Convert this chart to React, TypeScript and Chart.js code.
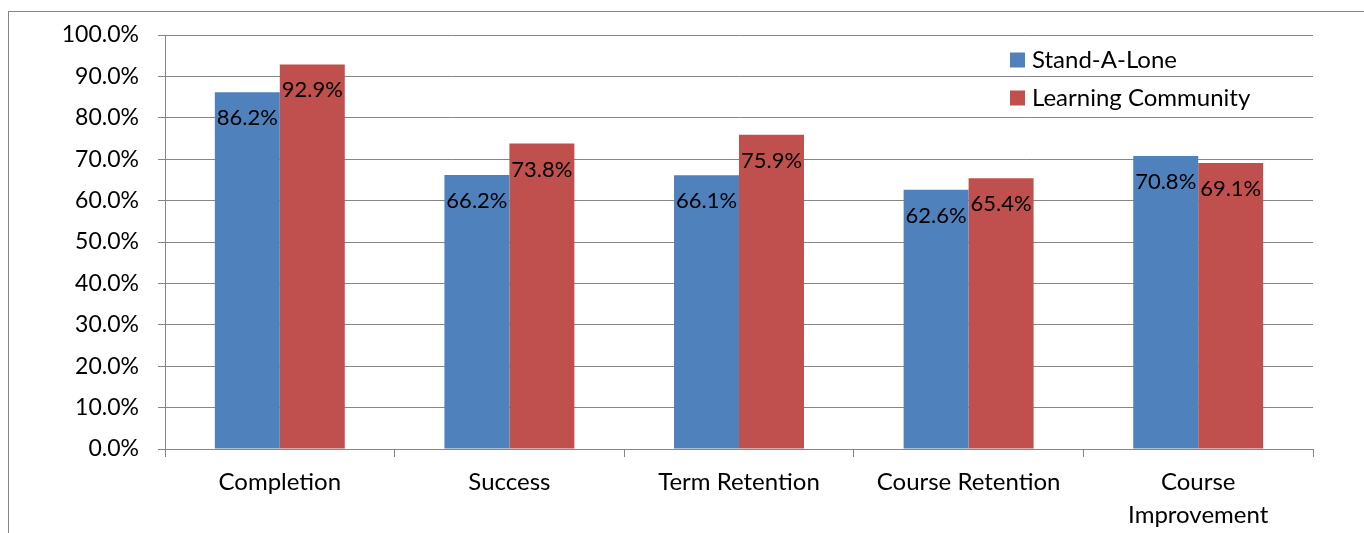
import React, { useEffect, useRef } from "react";
import { Chart, registerables } from "chart.js";

Chart.register(...registerables);

const categories: (string | string[])[] = [
  "Completion",
  "Success",
  "Term Retention",
  "Course Retention",
  ["Course", "Improvement"],
];
const seriesNames = ["Stand-A-Lone", "Learning Community"];
const standAlone = [86.2, 66.2, 66.1, 62.6, 70.8];
const learningCommunity = [92.9, 73.8, 75.9, 65.4, 69.1];
const seriesColors = ["#4F81BD", "#C0504D"];
const yMin = 0;
const yMax = 100;
const yStep = 10;

const FONT = "Lato, 'Open Sans', sans-serif";
const GRID = "#868686";

const framePlugin = {
  id: "frame",
  beforeDraw(chart: any) {
    const ctx = chart.ctx;
    ctx.save();
    ctx.fillStyle = "#fff";
    ctx.fillRect(0, 0, chart.width, chart.height);
    ctx.strokeStyle = GRID;
    ctx.lineWidth = 1;
    ctx.strokeRect(8.5, 11.5, chart.width + 20, chart.height + 20);
    ctx.restore();
  },
};

const valueLabelPlugin = {
  id: "valueLabels",
  afterDatasetsDraw(chart: any) {
    const ctx = chart.ctx;
    ctx.save();
    ctx.font = `22px ${FONT}`;
    ctx.fillStyle = "#000";
    ctx.textAlign = "center";
    ctx.textBaseline = "middle";
    chart.data.datasets.forEach((ds: any, di: number) => {
      const meta = chart.getDatasetMeta(di);
      meta.data.forEach((bar: any, i: number) => {
        const v = ds.data[i];
        ctx.fillText(v.toFixed(1) + "%", bar.x, bar.y + 26);
      });
    });
    ctx.restore();
  },
};

const legendPlugin = {
  id: "innerLegend",
  afterDraw(chart: any) {
    const ctx = chart.ctx;
    const x0 = 1010;
    const y0 = 60;
    const gap = 38;
    const box = 15;
    ctx.save();
    ctx.font = `24px ${FONT}`;
    ctx.textAlign = "left";
    ctx.textBaseline = "middle";
    chart.data.datasets.forEach((ds: any, i: number) => {
      const cy = y0 + i * gap;
      ctx.fillStyle = ds.backgroundColor;
      ctx.fillRect(x0, cy - box / 2, box, box);
      ctx.fillStyle = "#000";
      ctx.fillText(ds.label, x0 + 22, cy);
    });
    ctx.restore();
  },
};

export default function App() {
  const ref = useRef<HTMLCanvasElement>(null);
  useEffect(() => {
    if (!ref.current) return;
    const chart = new Chart(ref.current, {
      type: "bar",
      data: {
        labels: categories,
        datasets: [
          {
            label: seriesNames[0],
            data: standAlone,
            backgroundColor: seriesColors[0],
            barPercentage: 1,
            categoryPercentage: 0.566,
          },
          {
            label: seriesNames[1],
            data: learningCommunity,
            backgroundColor: seriesColors[1],
            barPercentage: 1,
            categoryPercentage: 0.566,
          },
        ],
      },
      options: {
        animation: false,
        responsive: false,
        maintainAspectRatio: false,
        layout: { padding: { top: 35, right: 51, left: 0, bottom: 0 } },
        plugins: {
          legend: { display: false },
          tooltip: { enabled: false },
        },
        scales: {
          x: {
            grid: {
              offset: true,
              drawOnChartArea: false,
              drawTicks: true,
              tickLength: 8,
              color: GRID,
            },
            border: { color: GRID },
            ticks: {
              color: "#000",
              font: { family: FONT, size: 24, lineHeight: 1.375 },
              padding: 9,
              maxRotation: 0,
              autoSkip: false,
            },
            afterFit(scale: any) {
              scale.height = 84;
            },
          },
          y: {
            min: yMin,
            max: yMax,
            grid: { color: GRID, tickLength: 7 },
            border: { color: GRID },
            ticks: {
              stepSize: yStep,
              color: "#000",
              font: { family: FONT, size: 23 },
              padding: 19,
              callback: (v: any) => Number(v).toFixed(1) + "%",
            },
            afterFit(scale: any) {
              scale.width = 165;
            },
          },
        },
      },
      plugins: [framePlugin, valueLabelPlugin, legendPlugin],
    });
    return () => chart.destroy();
  }, []);
  return (
    <div style={{ position: "absolute", left: 0, top: 0, width: 1364, height: 533 }}>
      <canvas ref={ref} width={1364} height={533} />
    </div>
  );
}
